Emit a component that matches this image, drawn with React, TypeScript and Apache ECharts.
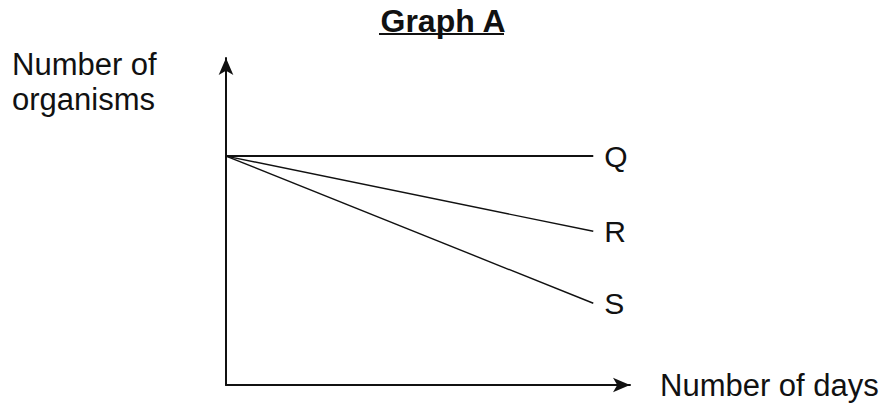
import React, { useEffect, useRef } from "react";
import * as echarts from "echarts";

const days = [0, 10];
const seriesNames = ["Q", "R", "S"];
const qValues = [70, 70];
const rValues = [70, 47];
const sValues = [70, 25];
const titleText = "Graph A";
const yAxisLabel = ["Number of", "organisms"];
const xAxisLabel = "Number of days";

const FONT = "'Liberation Sans', Arial, sans-serif";
const INK = "#111111";

export default function App() {
  const ref = useRef<HTMLDivElement>(null);
  useEffect(() => {
    document.body.style.margin = "0";
    if (!ref.current) return;
    const chart = echarts.init(ref.current, undefined, { renderer: "svg" });
    const values = [qValues, rValues, sValues];
    const widths = [2, 1.4, 1.4];
    chart.setOption({
      animation: false,
      backgroundColor: "#ffffff",
      title: {
        text: titleText,
        left: "center",
        top: 0,
        textStyle: { fontFamily: FONT, fontSize: 32, fontWeight: "bold", color: INK },
      },
      graphic: [
        {
          type: "line",
          shape: { x1: 379, y1: 34, x2: 504, y2: 34 },
          style: { stroke: INK, lineWidth: 2 },
        },
        {
          type: "text",
          left: 12,
          top: 47,
          style: {
            text: yAxisLabel.join("\n"),
            fontFamily: FONT,
            fontSize: 31,
            lineHeight: 35,
            fill: INK,
          },
        },
      ],
      grid: { left: 226, right: 256, top: 58, bottom: 18, containLabel: false },
      xAxis: {
        type: "value",
        min: 0,
        max: 11,
        name: xAxisLabel,
        nameLocation: "end",
        nameGap: 30,
        nameTextStyle: { fontFamily: FONT, fontSize: 31, color: INK },
        axisLine: {
          show: true,
          symbol: ["none", "arrow"],
          symbolSize: [11, 17],
          lineStyle: { color: INK, width: 2 },
        },
        axisTick: { show: false },
        axisLabel: { show: false },
        splitLine: { show: false },
      },
      yAxis: {
        type: "value",
        min: 0,
        max: 100,
        axisLine: {
          show: true,
          symbol: ["none", "arrow"],
          symbolSize: [11, 17],
          lineStyle: { color: INK, width: 2 },
        },
        axisTick: { show: false },
        axisLabel: { show: false },
        splitLine: { show: false },
      },
      series: seriesNames.map((name, i) => ({
        name,
        type: "line",
        data: days.map((d, j) => [d, values[i][j]]),
        showSymbol: false,
        symbol: "none",
        lineStyle: { color: INK, width: widths[i] },
        endLabel: {
          show: true,
          formatter: "{a}",
          distance: 11,
          fontFamily: FONT,
          fontSize: 30,
          color: INK,
        },
      })),
    });
    return () => chart.dispose();
  }, []);
  return <div ref={ref} style={{ width: 886, height: 403 }} />;
}
